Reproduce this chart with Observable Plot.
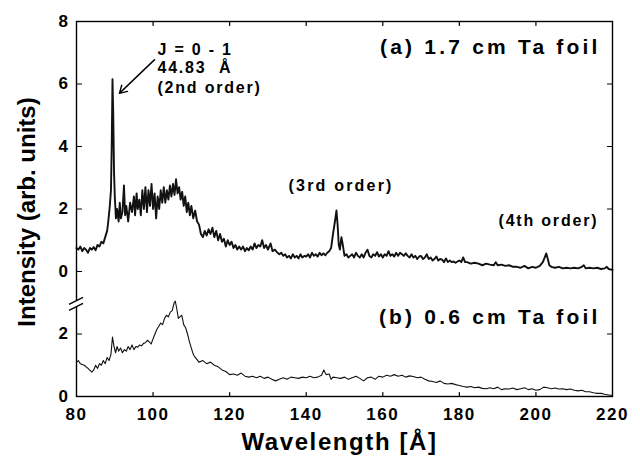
<!DOCTYPE html>
<html><head><meta charset="utf-8">
<script src="https://cdn.jsdelivr.net/npm/d3@7"></script>
<script src="https://cdn.jsdelivr.net/npm/@observablehq/plot@0.6"></script>
<style>
body{margin:0;background:#fff}
#chart svg{font-family:"Liberation Sans",Arial,Helvetica,sans-serif;background:#fff}
#chart svg text{font-weight:bold;fill:#000}
</style>
</head><body><div id="chart"></div>
<script>
// (a) 1.7 cm Ta foil: [wavelength Å, intensity]
const spectrumA = [
[80,0.75],[80.5,0.7],[81,0.8],[81.5,0.65],[82,0.75],[82.5,0.7],[83,0.6],[83.5,0.75],[84,0.7],[84.5,0.78],[85,0.68],[85.5,0.85],[86,0.8],[86.5,0.95],[87,0.9],[87.5,1.1],[88,1.3],[88.3,1.6],[88.7,2.1],[89,2.6],[89.2,4.0],[89.4,6.15],[89.6,5.0],[89.8,3.2],[90,2.4],[90.3,1.7],[90.6,2.0],[91,1.6],[91.3,2.2],[91.6,1.7],[92,1.9],[92.4,2.75],[92.7,1.8],[93,2.1],[93.5,1.6],[94,2.2],[94.5,1.9],[95,2.4],[95.3,1.8],[95.7,2.5],[96,2.0],[96.4,2.3],[96.8,1.8],[97.2,2.6],[97.6,2.0],[98,2.7],[98.4,1.9],[98.8,2.6],[99.2,2.1],[99.6,2.8],[100,2.0],[100.4,2.5],[100.8,1.7],[101.2,2.4],[101.6,2.0],[102,2.6],[102.4,2.2],[102.8,2.7],[103.2,2.2],[103.6,2.6],[104,2.3],[104.4,2.75],[104.8,2.4],[105.2,2.8],[105.6,2.45],[106,2.95],[106.4,2.5],[106.8,2.7],[107.2,2.3],[107.6,2.55],[108,2.1],[108.4,2.4],[108.8,1.9],[109.2,2.2],[109.6,1.8],[110,2.1],[110.5,1.7],[111,1.95],[111.5,1.6],[112,1.5],[112.5,1.2],[113,1.1],[113.5,1.3],[114,1.15],[114.5,1.35],[115,1.2],[115.5,1.4],[116,1.1],[116.5,1.3],[117,1.0],[117.5,1.2],[118,0.95],[118.5,1.05],[119,0.8],[119.5,1.0],[120,0.85],[120.5,0.95],[121,0.75],[121.5,0.85],[122,0.7],[122.5,0.8],[123,0.7],[123.5,0.8],[124,0.65],[124.5,0.75],[125,0.68],[125.5,0.8],[126,0.7],[126.5,0.9],[127,0.75],[127.5,0.85],[128,0.8],[128.5,1.0],[129,0.75],[129.5,0.85],[130,0.7],[130.7,0.9],[131.2,0.65],[131.8,0.7],[132.5,0.6],[133,0.55],[133.5,0.6],[134,0.5],[134.5,0.55],[135,0.45],[135.5,0.5],[136,0.42],[136.5,0.55],[137,0.45],[137.5,0.5],[138,0.42],[138.5,0.55],[139,0.45],[139.5,0.5],[140,0.48],[140.5,0.55],[141,0.45],[141.5,0.6],[142,0.5],[142.5,0.55],[143,0.48],[143.5,0.6],[144,0.52],[144.5,0.58],[145,0.52],[145.5,0.6],[146,0.65],[146.5,0.75],[147,1.2],[147.5,1.6],[147.9,1.95],[148.2,1.5],[148.5,0.85],[148.8,0.7],[149.2,1.1],[149.5,0.9],[150,0.5],[150.5,0.55],[151,0.45],[151.5,0.5],[152,0.55],[152.5,0.45],[153,0.6],[153.5,0.5],[154,0.45],[154.5,0.55],[155,0.45],[155.5,0.6],[156,0.7],[156.5,0.5],[157,0.45],[157.5,0.55],[158,0.5],[158.5,0.62],[159,0.48],[159.5,0.55],[160,0.45],[160.5,0.55],[161,0.5],[161.5,0.65],[162,0.5],[162.5,0.55],[163,0.48],[163.5,0.6],[164,0.5],[164.5,0.6],[165,0.55],[165.5,0.5],[166,0.58],[166.5,0.5],[167,0.45],[167.5,0.55],[168,0.45],[168.5,0.5],[169,0.4],[169.5,0.48],[170,0.5],[170.5,0.4],[171,0.45],[171.5,0.55],[172,0.4],[172.5,0.45],[173,0.35],[173.5,0.4],[174,0.48],[174.5,0.35],[175,0.4],[175.5,0.38],[176,0.3],[176.5,0.42],[177,0.3],[177.5,0.35],[178,0.3],[178.5,0.32],[179,0.28],[179.5,0.32],[180,0.35],[180.5,0.3],[181,0.45],[181.5,0.3],[182,0.3],[183,0.25],[184,0.28],[185,0.25],[186,0.2],[187,0.25],[188,0.22],[189,0.2],[189.5,0.3],[190,0.2],[191,0.22],[192,0.18],[193,0.2],[194,0.15],[195,0.15],[196,0.12],[197,0.18],[198,0.1],[199,0.15],[200,0.12],[201,0.18],[201.8,0.3],[202.3,0.45],[202.7,0.58],[203.1,0.4],[203.5,0.2],[204,0.15],[205,0.12],[206,0.15],[207,0.1],[208,0.12],[209,0.1],[210,0.12],[211,0.1],[212,0.15],[212.5,0.2],[213,0.1],[214,0.12],[215,0.1],[216,0.12],[217,0.08],[218,0.1],[218.5,0.15],[219,0.08],[220,0.05]
];
// (b) 0.6 cm Ta foil: [wavelength Å, intensity]
const spectrumB = [
[80,1.1],[80.5,1.15],[81,1.05],[82,1.0],[83,0.9],[84,0.78],[84.5,0.85],[85,1.0],[85.5,0.9],[86,1.05],[86.5,1.0],[87,1.15],[87.5,1.05],[88,1.25],[88.5,1.15],[89,1.35],[89.4,1.9],[89.8,1.6],[90.2,1.4],[90.6,1.6],[91,1.45],[91.5,1.55],[92,1.4],[92.5,1.5],[93,1.45],[93.5,1.6],[94,1.5],[94.5,1.65],[95,1.5],[95.5,1.6],[96,1.58],[96.5,1.65],[97,1.62],[97.5,1.7],[98,1.72],[98.5,1.8],[99,1.75],[99.5,1.68],[100,1.85],[100.5,2.0],[101,2.15],[101.5,2.25],[102,2.35],[102.5,2.3],[103,2.5],[103.5,2.6],[104,2.55],[104.5,2.7],[105,2.75],[105.5,3.0],[105.8,3.05],[106.2,2.8],[106.6,2.5],[107,2.55],[107.5,2.6],[108,2.3],[108.5,2.2],[109,2.0],[109.5,1.75],[110,1.55],[110.5,1.35],[111,1.25],[112,1.1],[113,1.15],[114,1.05],[115,1.1],[116,1.0],[117,0.95],[118,0.85],[119,0.8],[120,0.7],[121,0.72],[122,0.68],[123,0.75],[124,0.65],[125,0.62],[126,0.65],[127,0.6],[128,0.65],[129,0.58],[130,0.62],[131,0.55],[132,0.5],[133,0.55],[134,0.6],[135,0.55],[136,0.62],[137,0.6],[138,0.58],[139,0.62],[140,0.6],[141,0.65],[142,0.6],[143,0.62],[144,0.68],[144.6,0.85],[145.2,0.7],[146,0.72],[146.5,0.55],[147,0.62],[148,0.6],[149,0.58],[150,0.62],[151,0.55],[152,0.6],[153,0.65],[154,0.58],[155,0.5],[156,0.6],[157,0.62],[158,0.55],[159,0.65],[160,0.62],[161,0.68],[162,0.65],[163,0.7],[164,0.65],[165,0.68],[166,0.62],[167,0.66],[168,0.64],[169,0.6],[170,0.62],[171,0.55],[172,0.5],[173,0.48],[174,0.45],[175,0.5],[176,0.42],[177,0.4],[178,0.42],[179,0.38],[180,0.35],[181,0.32],[182,0.3],[183,0.32],[184,0.28],[185,0.3],[186,0.26],[187,0.25],[188,0.28],[189,0.25],[190,0.3],[191,0.22],[192,0.25],[193,0.24],[194,0.27],[195,0.22],[196,0.25],[197,0.28],[198,0.22],[199,0.25],[200,0.2],[201,0.22],[202,0.3],[203,0.28],[204,0.25],[205,0.27],[206,0.24],[207,0.25],[208,0.22],[209,0.24],[210,0.2],[211,0.18],[212,0.2],[213,0.15],[214,0.15],[215,0.12],[216,0.1],[217,0.1],[218,0.07],[219,0.05],[220,0.03]
];
const offsetB = -4;            // panel (b) drawn 4 units below panel (a)
const breakAt = -1.05;         // axis break position
const xTicks = [80,100,120,140,160,180,200,220];
const xInnerTicks = [100,120,140,160,180,200];
const yTicks = [-4,-2,0,2,4,6,8];
const yTickLabels = ["0","2","0","2","4","6","8"];
const yInnerTicks = [-2,2,4,6];
const panelLabels = [
  {text:"(a) 1.7 cm Ta foil", x:216.9, y:7.17},
  {text:"(b) 0.6 cm Ta foil", x:216.9, y:-1.48}
];
const lineLabels = [
  {text:"J = 0 - 1", x:101.15, y:7.09},
  {text:"44.83  Å", x:101.15, y:6.53},
  {text:"(2nd order)", x:101.15, y:5.89}
];
const orderLabel3 = [{text:"(3rd order)", x:149.1, y:2.73}];
const orderLabel4 = [{text:"(4th order)", x:216.3, y:1.61}];
const arrowA = [{x1:100.4, y1:6.78, x2:91.2, y2:5.70}];

const tickShape = {draw(ctx, l){ ctx.moveTo(0,0); ctx.lineTo(0,-l); }};

const chart = Plot.plot({
  width:640, height:458,
  marginLeft:76, marginRight:28, marginTop:21, marginBottom:62,
  x:{domain:[80,220]},
  y:{domain:[-4,8]},
  style:{fontFamily:'"Liberation Sans",Arial,sans-serif', color:"#000"},
  marks:[
    Plot.line(spectrumA, {x:d=>d[0], y:d=>d[1], stroke:"#111", strokeWidth:1.9, strokeLinejoin:"round"}),
    Plot.line(spectrumB, {x:d=>d[0], y:d=>d[1]+offsetB, stroke:"#111", strokeWidth:1.1, strokeLinejoin:"round"}),
    Plot.frame({stroke:"#000", strokeWidth:1.4}),
    // inward tick marks
    Plot.vector(yTicks.filter(d=>d!==-4 && d!==8), {y:d=>d, frameAnchor:"left", rotate:90, length:5, anchor:"start", shape:tickShape, stroke:"#000", strokeWidth:1.2}),
    Plot.vector(yInnerTicks, {y:d=>d, frameAnchor:"right", rotate:-90, length:5, anchor:"start", shape:tickShape, stroke:"#000", strokeWidth:1.2}),
    Plot.vector(xInnerTicks, {x:d=>d, frameAnchor:"bottom", rotate:0, length:4, anchor:"start", shape:tickShape, stroke:"#000", strokeWidth:1.2}),
    Plot.vector(xInnerTicks, {x:d=>d, frameAnchor:"top", rotate:180, length:4, anchor:"start", shape:tickShape, stroke:"#000", strokeWidth:1.2}),
    // tick labels
    Plot.axisY(yTicks, {anchor:"left", tickSize:0, tickPadding:7, tickFormat:d=>yTickLabels[yTicks.indexOf(d)], fontSize:17, label:null}),
    Plot.axisX(xTicks, {anchor:"bottom", tickSize:0, tickPadding:11, fontSize:17, label:null}),
    // axis titles
    Plot.text(["Wavelength [Å]"], {frameAnchor:"bottom", textAnchor:"middle", dx:-5, dy:46, fontSize:24, lineAnchor:"middle"}),
    Plot.text(["Intensity (arb. units)"], {frameAnchor:"left", textAnchor:"middle", dx:-49, dy:3, rotate:-90, fontSize:24, lineAnchor:"middle"}),
    // annotations
    Plot.text(panelLabels, {x:"x", y:"y", text:"text", textAnchor:"end", fontSize:21, lineAnchor:"middle"}),
    Plot.text(lineLabels, {x:"x", y:"y", text:"text", textAnchor:"start", fontSize:16, lineAnchor:"middle"}),
    Plot.text(orderLabel3, {x:"x", y:"y", text:"text", textAnchor:"middle", fontSize:16, lineAnchor:"middle"}),
    Plot.text(orderLabel4, {x:"x", y:"y", text:"text", textAnchor:"end", fontSize:16, lineAnchor:"middle"}),
    Plot.arrow(arrowA, {x1:"x1", y1:"y1", x2:"x2", y2:"y2", stroke:"#000", strokeWidth:1.4, headLength:9})
  ]
});

// letter spacing to match the wide spacing of the original lettering
const svg = d3.select(chart);
svg.selectAll("text").each(function(){
  const el = d3.select(this);
  const t = this.textContent;
  if (t.includes("Ta foil")) el.attr("letter-spacing", 3.2);
  else if (t.includes("3rd")) el.attr("letter-spacing", 2.2);
  else if (t.includes("order") || t.includes("J =") || t.includes("44.83")) el.attr("letter-spacing", 1.8);
  else if (t.includes("Wavelength")) el.attr("letter-spacing", 1.6);
  else if (/^\d+$/.test(t)) el.attr("letter-spacing", 1.5);
});

// axis break mark on the left axis
const xs = chart.scale("x"), ys = chart.scale("y");
const bx = xs.apply(80), by = ys.apply(breakAt);
const g = svg.append("g");
g.append("rect").attr("x", bx-3).attr("y", by-3).attr("width", 6).attr("height", 6).attr("fill", "#fff");
for (const d of [-3, 3]) {
  g.append("line").attr("x1", bx-7).attr("y1", by+d+3.5).attr("x2", bx+7).attr("y2", by+d-3.5)
   .attr("stroke", "#000").attr("stroke-width", 1.4);
}
document.getElementById("chart").append(chart);
</script>
</body></html>
